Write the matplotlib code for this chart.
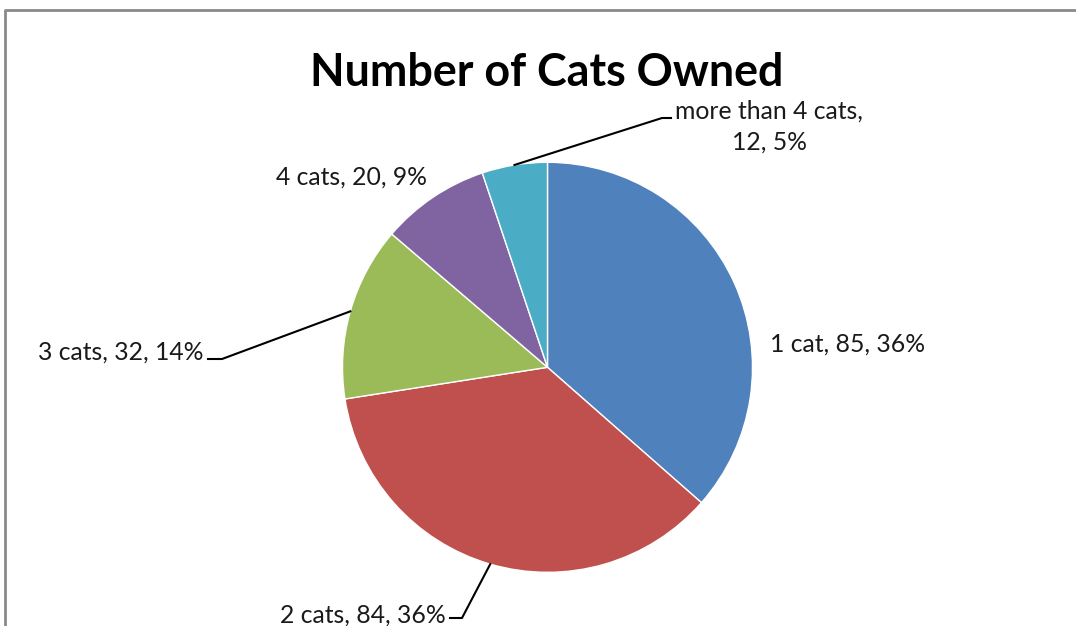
import matplotlib
matplotlib.use("Agg")
import matplotlib.pyplot as plt
import numpy as np
from matplotlib.lines import Line2D

W, H = 1076, 626

categories = ["1 cat", "2 cats", "3 cats", "4 cats", "more than 4 cats"]
counts = [85, 84, 32, 20, 12]
colors = ["#4F81BD", "#C0504D", "#9BBB59", "#8064A2", "#4BACC6"]
title = "Number of Cats Owned"

FONT = ["Lato", "DejaVu Sans"]

# label anchors in pixels from the top-left: (x, baseline y, ha, leader elbow + end)
layout = {
    "1 cat": (770, 352, "left", None),
    "2 cats": (446, 623, "right", [(462, 618), (450, 618)]),
    "3 cats": (204, 360, "right", [(222, 359), (208, 359)]),
    "4 cats": (427, 185, "right", None),
    "more than 4 cats": (769, 119, "center", [(662, 118), (671, 118)]),
}


def fxy(x, y):
    """pixel position (origin top-left) -> figure fraction"""
    return x / W, 1 - y / H


fig = plt.figure(figsize=(W / 100, H / 100), dpi=100, facecolor="white")

cx, cy, r = 547.5, 367.3, 205
ax = fig.add_axes([(cx - r) / W, 1 - (cy + r) / H, 2 * r / W, 2 * r / H])
wedges, _ = ax.pie(counts, colors=colors, startangle=90, counterclock=False,
                   radius=1, wedgeprops=dict(edgecolor="white", linewidth=1))
ax.set_xlim(-1, 1)
ax.set_ylim(-1, 1)

# chart frame (top and left edges visible)
fig.add_artist(Line2D([5 / W, 5 / W, 1], [0, 1 - 10 / H, 1 - 10 / H],
                      transform=fig.transFigure, color="#8a8a8a", lw=2))

fig.text(*fxy(547, 86), title, ha="center", va="baseline",
         fontsize=32.3, fontweight="bold", family=FONT, color="black")

total = sum(counts)
to_fig = fig.transFigure.inverted()
for cat, v, w in zip(categories, counts, wedges):
    pct = round(100 * v / total)
    x, y, ha, leader = layout[cat]
    if cat == "more than 4 cats":
        lines = [f"{cat},", f"{v}, {pct}%"]
    else:
        lines = [f"{cat}, {v}, {pct}%"]
    for i, s in enumerate(lines):
        fig.text(*fxy(x, y + 31 * i), s, ha=ha, va="baseline", fontsize=17.8,
                 family=FONT, color="#1a1a1a")
    if leader:
        mid = np.deg2rad((w.theta1 + w.theta2) / 2)
        ex, ey = to_fig.transform(ax.transData.transform((np.cos(mid), np.sin(mid))))
        pts = [(ex, ey)] + [fxy(px, py) for px, py in leader]
        xs, ys = zip(*pts)
        fig.add_artist(Line2D(xs, ys, transform=fig.transFigure,
                              color="black", lw=1.5))

fig.savefig("out.png", dpi=100, facecolor="white")
